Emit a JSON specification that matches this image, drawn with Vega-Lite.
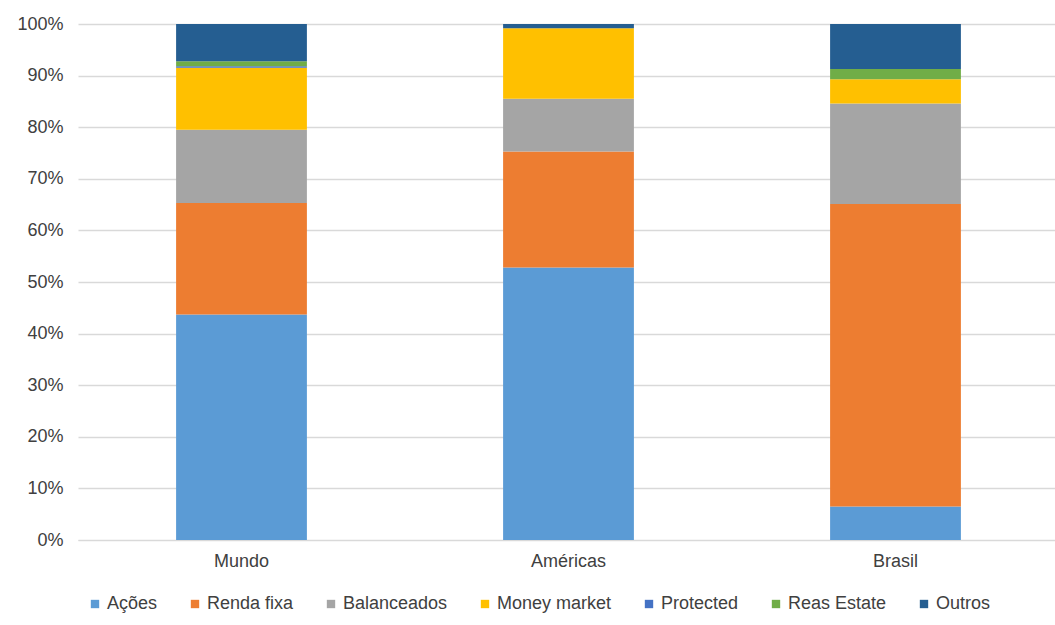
{
  "$schema": "https://vega.github.io/schema/vega-lite/v6.json",
  "autosize": {"type": "none"},
  "width": 981,
  "height": 516,
  "padding": {"left": 78, "top": 24, "right": 0, "bottom": 85},
  "background": "white",
  "config": {
    "font": "Liberation Sans",
    "view": {"stroke": null}
  },
  "data": {
    "values": [
      {"regiao": "Mundo", "classe": "Ações", "ordem": 1, "valor": 43.7},
      {"regiao": "Mundo", "classe": "Renda fixa", "ordem": 2, "valor": 21.6},
      {"regiao": "Mundo", "classe": "Balanceados", "ordem": 3, "valor": 14.2},
      {"regiao": "Mundo", "classe": "Money market", "ordem": 4, "valor": 12.0},
      {"regiao": "Mundo", "classe": "Protected", "ordem": 5, "valor": 0.3},
      {"regiao": "Mundo", "classe": "Reas Estate", "ordem": 6, "valor": 1.0},
      {"regiao": "Mundo", "classe": "Outros", "ordem": 7, "valor": 7.2},
      {"regiao": "Américas", "classe": "Ações", "ordem": 1, "valor": 52.8},
      {"regiao": "Américas", "classe": "Renda fixa", "ordem": 2, "valor": 22.5},
      {"regiao": "Américas", "classe": "Balanceados", "ordem": 3, "valor": 10.2},
      {"regiao": "Américas", "classe": "Money market", "ordem": 4, "valor": 13.7},
      {"regiao": "Américas", "classe": "Protected", "ordem": 5, "valor": 0.0},
      {"regiao": "Américas", "classe": "Reas Estate", "ordem": 6, "valor": 0.0},
      {"regiao": "Américas", "classe": "Outros", "ordem": 7, "valor": 0.8},
      {"regiao": "Brasil", "classe": "Ações", "ordem": 1, "valor": 6.5},
      {"regiao": "Brasil", "classe": "Renda fixa", "ordem": 2, "valor": 58.6},
      {"regiao": "Brasil", "classe": "Balanceados", "ordem": 3, "valor": 19.5},
      {"regiao": "Brasil", "classe": "Money market", "ordem": 4, "valor": 4.7},
      {"regiao": "Brasil", "classe": "Protected", "ordem": 5, "valor": 0.0},
      {"regiao": "Brasil", "classe": "Reas Estate", "ordem": 6, "valor": 2.0},
      {"regiao": "Brasil", "classe": "Outros", "ordem": 7, "valor": 8.7}
    ]
  },
  "mark": {"type": "bar"},
  "encoding": {
    "x": {
      "field": "regiao",
      "type": "nominal",
      "sort": ["Mundo", "Américas", "Brasil"],
      "scale": {"paddingInner": 0.6, "paddingOuter": 0.3},
      "axis": {
        "title": null,
        "labelAngle": 0,
        "labelFontSize": 18,
        "labelColor": "#404040",
        "labelPadding": 12,
        "ticks": false,
        "domain": true,
        "domainColor": "#D9D9D9"
      }
    },
    "y": {
      "field": "valor",
      "type": "quantitative",
      "stack": true,
      "scale": {"domain": [0, 100], "nice": false},
      "axis": {
        "title": null,
        "values": [0, 10, 20, 30, 40, 50, 60, 70, 80, 90, 100],
        "labelExpr": "datum.value + '%'",
        "labelFontSize": 18,
        "labelColor": "#404040",
        "labelPadding": 15,
        "ticks": false,
        "domain": false,
        "grid": true,
        "gridColor": "#D9D9D9",
        "gridWidth": 1.3
      }
    },
    "color": {
      "field": "classe",
      "type": "nominal",
      "sort": ["Ações", "Renda fixa", "Balanceados", "Money market", "Protected", "Reas Estate", "Outros"],
      "scale": {
        "domain": ["Ações", "Renda fixa", "Balanceados", "Money market", "Protected", "Reas Estate", "Outros"],
        "range": ["#5B9BD5", "#ED7D31", "#A5A5A5", "#FFC000", "#4472C4", "#70AD47", "#255E91"]
      },
      "legend": {
        "title": null,
        "orient": "none",
        "direction": "horizontal",
        "legendX": 8,
        "legendY": 571,
        "symbolType": "square",
        "symbolSize": 70,
        "symbolStrokeWidth": 0,
        "labelFontSize": 18,
        "labelColor": "#404040",
        "labelOffset": 3,
        "columnPadding": 28
      }
    },
    "order": {"field": "ordem", "type": "quantitative", "sort": "ascending"}
  }
}
